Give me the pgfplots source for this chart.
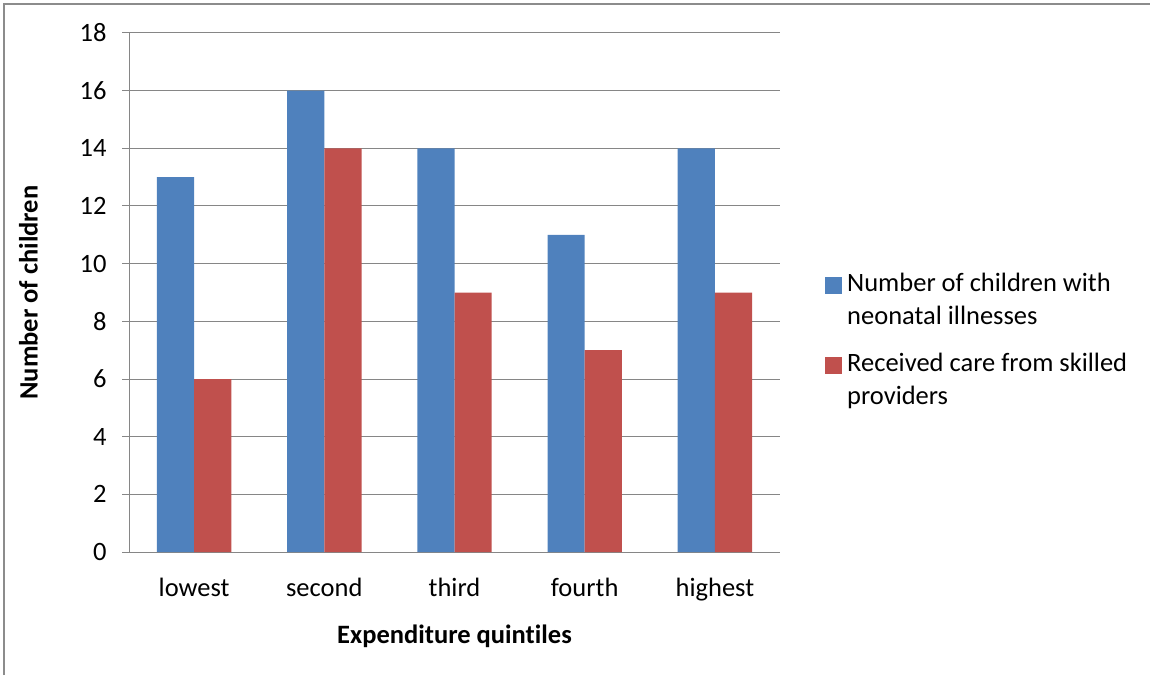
\documentclass[border=0pt]{standalone}
\usepackage{fontspec}
\setmainfont{Carlito}[Ligatures=NoCommon]
\usepackage{pgfplots}
\pgfplotsset{compat=1.18}
\definecolor{barblue}{HTML}{4F81BD}
\definecolor{barred}{HTML}{C0504D}
\definecolor{axgray}{HTML}{868686}
\definecolor{framegray}{HTML}{8C8C8C}
\begin{document}
\begin{tikzpicture}[x=1pt,y=1pt]
  % page size and chart frame
  \path[use as bounding box] (0,0) rectangle (1150,675);
  \draw[framegray, line width=1.5pt] (4,0) -- (4,671) -- (1150,671);
  \begin{axis}[
    at={(129pt,123pt)}, anchor=south west,
    scale only axis, width=651pt, height=519pt,
    xmin=-0.5, xmax=4.5, ymin=0, ymax=18,
    ytick={0,2,...,18},
    xtick={0,1,2,3,4},
    xticklabels={lowest,second,third,fourth,highest},
    axis x line*=bottom, axis y line*=left,
    x axis line style={axgray, line width=1pt, -},
    y axis line style={axgray, line width=1pt, -},
    major x tick style={draw=none},
    major y tick style={axgray, line width=1pt},
    tick align=outside, major tick length=7pt,
    ymajorgrids, grid style={axgray, line width=1pt},
    /pgf/number format/assume math mode=true,
    tick label style={font=\fontsize{26.5}{31}\selectfont},
    yticklabel style={xshift=-12pt},
    xticklabel style={yshift=-16pt},
    xlabel={\textbf{Expenditure quintiles}},
    ylabel={\textbf{Number of children}},
    label style={font=\fontsize{26.5}{31}\selectfont},
    xlabel style={yshift=-17pt},
    ylabel style={yshift=35pt},
    ybar, bar width=0.2857,
    legend style={at={(1.0645,0.547)}, anchor=north west, draw=none,
      inner sep=0pt, font=\fontsize{26.5}{33}\selectfont,
      nodes={align=left, inner sep=2pt}, row sep=23pt,
      yshift=-3pt},
    legend cell align=left,
    legend image code/.code={%
      \path (0pt,0pt) (23pt,0pt);
      \fill[#1] (3pt,6pt) rectangle (20pt,23pt);},
  ]
    \addplot[fill=barblue, draw=none, bar shift=-0.14286] coordinates
      {(0,13) (1,16) (2,14) (3,11) (4,14)};
    \addplot[fill=barred, draw=none, bar shift=0.14286] coordinates
      {(0,6) (1,14) (2,9) (3,7) (4,9)};
    \legend{Number of children with\\neonatal illnesses,
            Received care from skilled\\providers}
  \end{axis}
\end{tikzpicture}
\end{document}
